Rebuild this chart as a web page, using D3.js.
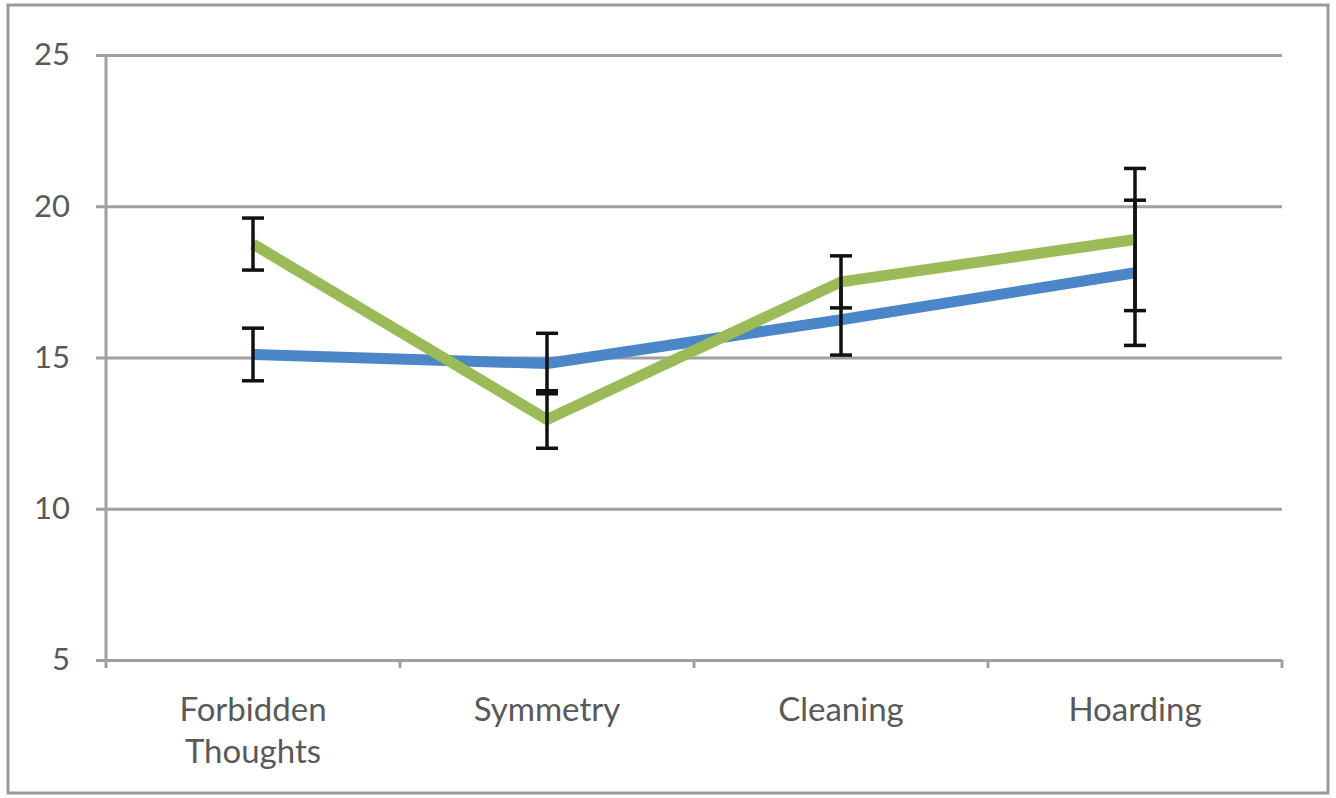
<!DOCTYPE html>
<html>
<head>
<meta charset="utf-8">
<script src="https://cdn.jsdelivr.net/npm/d3@7"></script>
<style>
  html, body { margin: 0; padding: 0; background: #fff; }
  svg { display: block; }
  text { font-family: Lato, "Open Sans", sans-serif; fill: #595959; }
</style>
</head>
<body>
<svg id="chart" width="1336" height="798"></svg>
<script>
// Symptom dimension scores by group
const categories = ["Forbidden Thoughts", "Symmetry", "Cleaning", "Hoarding"];
const blueMeans  = [15.1, 14.8, 16.25, 17.8];
const blueErrors = [0.87, 1.0, 1.17, 2.4];
const greenMeans  = [18.75, 12.95, 17.5, 18.9];
const greenErrors = [0.86, 0.95, 0.86, 2.35];
const yTicks = [5, 10, 15, 20, 25];

const svg = d3.select("#chart");

const plot = { left: 106, right: 1282, top: 55, bottom: 660 };

// outer frame
svg.append("rect")
  .attr("x", 8).attr("y", 5)
  .attr("width", 1320).attr("height", 788)
  .attr("fill", "none")
  .attr("stroke", "#9a9a9a")
  .attr("stroke-width", 3);

const x = d3.scaleBand()
  .domain(categories)
  .range([plot.left, plot.right])
  .padding(0);

const y = d3.scaleLinear()
  .domain([5, 25])
  .range([plot.bottom, plot.top]);

const cx = d => x(d) + x.bandwidth() / 2;

// y axis with gridlines
const yAxis = d3.axisLeft(y)
  .tickValues(yTicks)
  .tickSizeInner(-(plot.right - (plot.left - 10)))
  .tickSizeOuter(0)
  .tickPadding(26)
  .tickFormat(d3.format("d"));

const gy = svg.append("g")
  .attr("transform", `translate(${plot.left - 10},0)`)
  .call(yAxis);
gy.select(".domain").remove();
gy.selectAll(".tick line")
  .attr("stroke", "#a0a0a0")
  .attr("stroke-width", 3);
gy.selectAll(".tick text")
  .style("font-size", "31px")
  .attr("fill", "#595959");

// vertical axis line
svg.append("line")
  .attr("x1", plot.left).attr("x2", plot.left)
  .attr("y1", plot.top).attr("y2", plot.bottom + 8)
  .attr("stroke", "#a0a0a0")
  .attr("stroke-width", 3);

// category boundary ticks on the x axis
const bounds = categories.map(c => x(c)).concat([x(categories[categories.length - 1]) + x.bandwidth()]);
svg.append("g").selectAll("line")
  .data(bounds.slice(1))
  .join("line")
  .attr("x1", d => d).attr("x2", d => d)
  .attr("y1", plot.bottom).attr("y2", plot.bottom + 8)
  .attr("stroke", "#a0a0a0")
  .attr("stroke-width", 3);

// category labels
const labels = svg.append("g");
categories.forEach(c => {
  const words = c.split(" ");
  const t = labels.append("text")
    .attr("x", cx(c))
    .attr("y", 721)
    .attr("text-anchor", "middle")
    .style("font-size", "33px");
  words.forEach((w, i) => {
    t.append("tspan")
      .attr("x", cx(c))
      .attr("dy", i === 0 ? 0 : 42)
      .text(w);
  });
});

const line = d3.line()
  .x((d, i) => cx(categories[i]))
  .y(d => y(d));

function drawSeries(means, color) {
  svg.append("path")
    .datum(means)
    .attr("d", line)
    .attr("fill", "none")
    .attr("stroke", color)
    .attr("stroke-width", 11)
    .attr("stroke-linejoin", "round");
}

function drawErrors(means, errors) {
  const g = svg.append("g")
    .attr("stroke", "#111")
    .attr("stroke-width", 3.5);
  means.forEach((m, i) => {
    const px = cx(categories[i]);
    const lo = y(m - errors[i]), hi = y(m + errors[i]);
    g.append("line").attr("x1", px).attr("x2", px).attr("y1", lo).attr("y2", hi);
    g.append("line").attr("x1", px - 11).attr("x2", px + 11).attr("y1", lo).attr("y2", lo);
    g.append("line").attr("x1", px - 11).attr("x2", px + 11).attr("y1", hi).attr("y2", hi);
  });
}

drawSeries(blueMeans, "#4a86c8");
drawErrors(blueMeans, blueErrors);
drawSeries(greenMeans, "#9bbb59");
drawErrors(greenMeans, greenErrors);
</script>
</body>
</html>
